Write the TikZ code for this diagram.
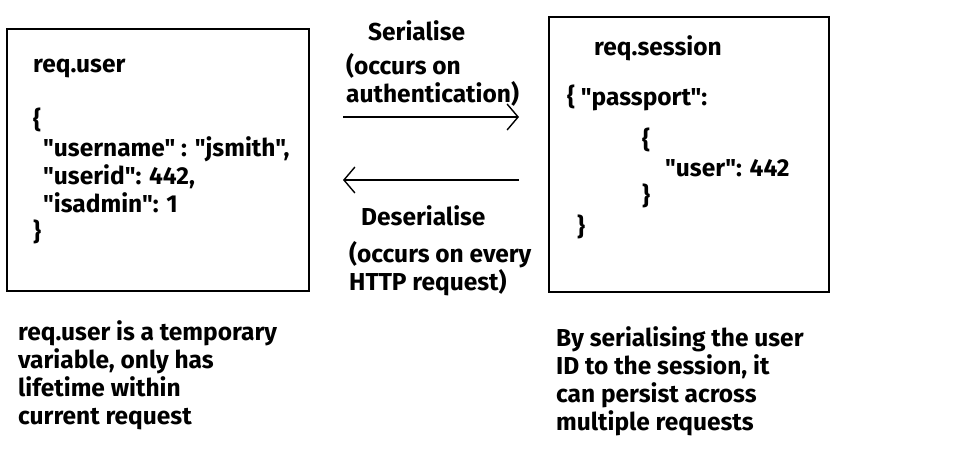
\documentclass[tikz,border=0pt]{standalone}
\usepackage{fontspec}
\newfontfamily\firabold{Fira Sans}
\usetikzlibrary{arrows.meta}
\tikzset{
	txt/.style={anchor=base west,align=left,inner sep=0pt,font=\firabold\fontsize{24.5}{28}\selectfont\bfseries},
	boite/.style={draw,line width=1.6pt},
	fleche/.style={line width=1.6pt,-{Straight Barb[length=11pt,width=26pt,line width=1.4pt]}}
}
\begin{document}
\begin{tikzpicture}[x=1pt,y=-1pt]
			\useasboundingbox (0,0) rectangle (957,469);
			\draw [boite] (7,29) rectangle (309,291);
			\draw [boite] (549,17) rectangle (829,292);
			\node [txt] (titreuser) at (33,72) {req.user};
			\node [txt] (objuser) at (33,240) {\{\\
				\hspace*{10pt}"username" : "jsmith",\\
				\hspace*{10pt}"userid": 442,\\
				\hspace*{10pt}"isadmin": 1\\
				\}};
			\node [txt] (titresession) at (594,55) {req.session};
			\node [txt] (passport) at (567,105) {\{ "passport":};
			\node [txt] (objsession) at (642,204) {\{\\
				\hspace*{23pt}"user": 442\\
				\}};
			\node [txt] (finsession) at (577,235) {\}};
			\node [txt] (ser) at (368,40) {Serialise};
			\node [txt] (serinfo) at (346,102) {(occurs on\\authentication)};
			\node [txt] (deser) at (361,225) {Deserialise};
			\node [txt] (deserinfo) at (349,290) {(occurs on every\\HTTP request)};
			\node [txt] (noteuser) at (18,424) {req.user is a temporary\\variable, only has\\lifetime within\\current request};
			\node [txt] (notesession) at (556,430) {By serialising the user\\ID to the session, it\\can persist across\\multiple requests};
			\coordinate (a1) at (343,117);
			\coordinate (b1) at (519,117);
			\coordinate (a2) at (519,180);
			\coordinate (b2) at (343,180);
			\draw [fleche] (a1) -- (b1);
			\draw [fleche] (a2) -- (b2);
\end{tikzpicture}
\end{document}
